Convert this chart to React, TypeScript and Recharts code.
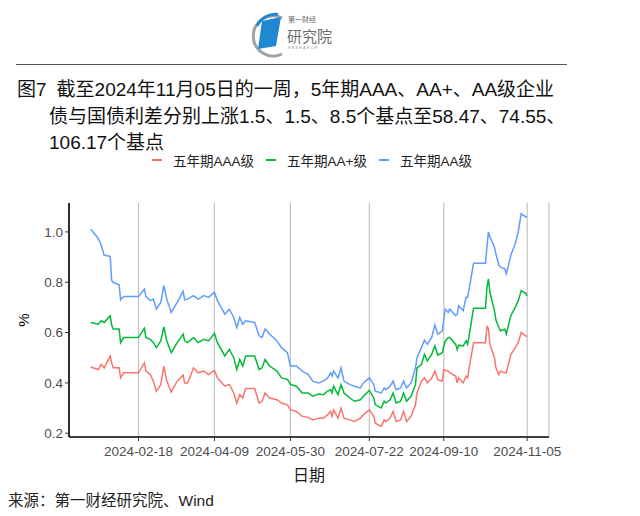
import { LineChart, Line, XAxis, YAxis, CartesianGrid } from 'recharts'

const DATES = [
  '2024-01-17', '2024-01-22', '2024-01-24', '2024-01-26', '2024-01-30', '2024-01-31',
  '2024-02-01', '2024-02-05', '2024-02-06', '2024-02-08', '2024-02-18', '2024-02-22',
  '2024-02-23', '2024-02-26', '2024-02-28', '2024-03-01', '2024-03-04', '2024-03-06',
  '2024-03-08', '2024-03-11', '2024-03-15', '2024-03-19', '2024-03-20', '2024-03-22',
  '2024-03-26', '2024-03-29', '2024-04-02', '2024-04-05', '2024-04-09', '2024-04-11',
  '2024-04-16', '2024-04-19', '2024-04-22', '2024-04-24', '2024-04-26', '2024-04-28',
  '2024-04-30', '2024-05-06', '2024-05-09', '2024-05-11', '2024-05-13', '2024-05-16',
  '2024-05-21', '2024-05-24', '2024-05-28', '2024-05-30', '2024-06-03', '2024-06-07',
  '2024-06-11', '2024-06-14', '2024-06-18', '2024-06-21', '2024-06-24', '2024-06-26',
  '2024-06-27', '2024-06-28', '2024-07-01', '2024-07-03', '2024-07-05', '2024-07-09',
  '2024-07-12', '2024-07-16', '2024-07-18', '2024-07-22', '2024-07-25', '2024-07-26',
  '2024-07-30', '2024-08-01', '2024-08-02', '2024-08-05', '2024-08-07', '2024-08-09',
  '2024-08-12', '2024-08-14', '2024-08-16', '2024-08-19', '2024-08-22', '2024-08-23',
  '2024-08-26', '2024-08-28', '2024-08-30', '2024-09-02', '2024-09-04', '2024-09-06',
  '2024-09-09', '2024-09-10', '2024-09-11', '2024-09-13', '2024-09-14', '2024-09-18',
  '2024-09-19', '2024-09-20', '2024-09-23', '2024-09-25', '2024-09-26', '2024-09-27',
  '2024-09-30', '2024-10-08', '2024-10-09', '2024-10-10', '2024-10-11', '2024-10-14',
  '2024-10-15', '2024-10-17', '2024-10-18', '2024-10-21', '2024-10-22', '2024-10-25',
  '2024-10-28', '2024-10-30', '2024-11-01', '2024-11-04', '2024-11-05',
]

// 五年期AAA级
const AAA = [
  0.463, 0.453, 0.474, 0.46, 0.507, 0.48,
  0.46, 0.46, 0.42, 0.44, 0.44, 0.48,
  0.447, 0.433, 0.407, 0.367, 0.393, 0.467,
  0.407, 0.364, 0.407, 0.431, 0.4, 0.4,
  0.46, 0.44, 0.447, 0.433, 0.45, 0.42,
  0.387, 0.394, 0.36, 0.32, 0.353, 0.34,
  0.378, 0.378, 0.32, 0.327, 0.36, 0.34,
  0.333, 0.32, 0.313, 0.293, 0.287, 0.267,
  0.263, 0.253, 0.26, 0.26, 0.273, 0.287,
  0.267, 0.293, 0.26, 0.3, 0.26, 0.253,
  0.247, 0.26, 0.273, 0.293, 0.267, 0.24,
  0.227, 0.253, 0.247, 0.26, 0.287, 0.247,
  0.253, 0.287, 0.247, 0.267, 0.313, 0.36,
  0.407, 0.42, 0.4, 0.42, 0.447, 0.413,
  0.407, 0.453, 0.45, 0.447, 0.44, 0.427,
  0.4, 0.42, 0.4, 0.427, 0.42, 0.46,
  0.56, 0.56, 0.627, 0.613, 0.553, 0.5,
  0.46, 0.433, 0.447, 0.44, 0.44, 0.513,
  0.54, 0.56, 0.6, 0.587, 0.5847,
]

// 五年期AA+级
const AA_PLUS = [
  0.64, 0.633, 0.647, 0.64, 0.667, 0.63,
  0.614, 0.614, 0.56, 0.58, 0.58, 0.617,
  0.58, 0.573, 0.56, 0.54, 0.567, 0.623,
  0.567, 0.52, 0.56, 0.594, 0.567, 0.56,
  0.58, 0.56, 0.573, 0.567, 0.597, 0.56,
  0.507, 0.533, 0.5, 0.453, 0.493, 0.467,
  0.507, 0.507, 0.453, 0.46, 0.493, 0.467,
  0.447, 0.42, 0.414, 0.394, 0.387, 0.36,
  0.36, 0.347, 0.356, 0.353, 0.367, 0.373,
  0.36, 0.387, 0.353, 0.393, 0.36, 0.34,
  0.327, 0.333, 0.347, 0.37, 0.34, 0.313,
  0.3, 0.327, 0.32, 0.333, 0.36, 0.32,
  0.327, 0.36, 0.327, 0.347, 0.393, 0.46,
  0.473, 0.513, 0.487, 0.515, 0.547, 0.51,
  0.52, 0.547, 0.567, 0.58, 0.58, 0.553,
  0.533, 0.55, 0.547, 0.567, 0.553, 0.587,
  0.697, 0.697, 0.78, 0.813, 0.76, 0.687,
  0.65, 0.62, 0.607, 0.613, 0.594, 0.667,
  0.7, 0.727, 0.767, 0.756, 0.7455,
]

// 五年期AA级
const AA = [
  1.011, 0.974, 0.947, 0.907, 0.903, 0.807,
  0.8, 0.79, 0.73, 0.743, 0.743, 0.773,
  0.743, 0.727, 0.733, 0.694, 0.72, 0.787,
  0.733, 0.68, 0.72, 0.764, 0.73, 0.733,
  0.747, 0.733, 0.747, 0.74, 0.76, 0.727,
  0.673, 0.693, 0.66, 0.62, 0.66, 0.633,
  0.647, 0.64, 0.587, 0.58, 0.614, 0.594,
  0.567, 0.54, 0.52, 0.467, 0.467, 0.447,
  0.433, 0.407, 0.4, 0.407, 0.42, 0.44,
  0.427, 0.447, 0.42, 0.46, 0.407, 0.393,
  0.387, 0.38, 0.4, 0.42, 0.393, 0.367,
  0.36, 0.38, 0.373, 0.387, 0.407, 0.373,
  0.38, 0.407, 0.38, 0.4, 0.46, 0.5,
  0.54, 0.57, 0.553, 0.583, 0.63, 0.593,
  0.607, 0.653, 0.693, 0.68, 0.693, 0.667,
  0.673, 0.707, 0.687, 0.74, 0.74, 0.773,
  0.876, 0.876, 0.94, 1.0, 0.98, 0.94,
  0.913, 0.867, 0.86, 0.853, 0.833, 0.907,
  0.953, 1.0, 1.073, 1.06, 1.0617,
]

const X_TICKS = ['2024-02-18', '2024-04-09', '2024-05-30', '2024-07-22', '2024-09-10', '2024-11-05']
const Y_TICKS = [0.2, 0.4, 0.6, 0.8, 1.0]

const SERIES = [
  { key: 'aaa', name: '五年期AAA级', color: '#F8766D' },
  { key: 'aaPlus', name: '五年期AA+级', color: '#00BA38' },
  { key: 'aa', name: '五年期AA级', color: '#619CFF' },
]

const data = DATES.map((d, i) => ({
  t: Date.parse(d),
  aaa: AAA[i],
  aaPlus: AA_PLUS[i],
  aa: AA[i],
}))

// ggplot-style 5% padding on the date range
const tStart = Date.parse(DATES[0])
const tEnd = Date.parse(DATES[DATES.length - 1])
const pad = (tEnd - tStart) * 0.05
const xDomain = [tStart - pad, tEnd + pad]

const FONT = '"Liberation Sans", Arial, "Noto Sans CJK SC", sans-serif'

function YLabel(props: any) {
  const { viewBox } = props
  const x = viewBox.x + 4
  const y = viewBox.y + viewBox.height / 2
  return (
    <text x={x} y={y} transform={`rotate(-90 ${x} ${y})`} textAnchor='middle' dominantBaseline='central' fontSize={15} fill='#000'>
      %
    </text>
  )
}

function Logo() {
  return (
    <svg width={90} height={52} style={{ position: 'absolute', left: 248, top: 6 }}>
      <path d='M 34 12 A 20 20 0 1 0 34 48' fill='none' stroke='#9ea3a8' strokeWidth={3} />
      <path d='M 30 8.5 A 20 20 0 0 0 9 20' fill='none' stroke='#1e88d0' strokeWidth={3} />
      <polygon points='14,15 33,11 28,40 10,43' fill='#1e88d0' />
      <text x={40} y={16} fontSize={7} fill='#666'>第一财经</text>
      <text x={39} y={36} fontSize={15} fill='#6d6d6d'>研究院</text>
      <text x={40} y={43} fontSize={3.6} fill='#888' letterSpacing={1.3}>RESEARCH</text>
    </svg>
  )
}

export default function App() {
  return (
    <div style={{ position: 'absolute', left: 0, top: 0, width: 640, height: 516, background: '#fff', fontFamily: FONT, color: '#111', overflow: 'hidden' }}>
      <Logo />
      <div style={{ position: 'absolute', left: 16, top: 64, width: 551, height: 0, borderTop: '1.5px solid #555' }} />

      <div style={{ position: 'absolute', left: 17, top: 77, fontSize: 19, lineHeight: '26.5px', whiteSpace: 'nowrap' }}>
        <div>
          <span style={{ marginRight: 10 }}>图7</span>截至2024年11月05日的一周，5年期AAA、AA+、AA级企业
        </div>
        <div style={{ paddingLeft: 32 }}>债与国债利差分别上涨1.5、1.5、8.5个基点至58.47、74.55、</div>
        <div style={{ paddingLeft: 32 }}>106.17个基点</div>
      </div>

      <div style={{ position: 'absolute', left: 152, top: 151, height: 18, display: 'flex', alignItems: 'center', fontSize: 13.5, color: '#222', whiteSpace: 'nowrap' }}>
        {SERIES.map((s) => (
          <div key={s.key} style={{ display: 'flex', alignItems: 'center', marginRight: 12 }}>
            <div style={{ width: 10, height: 2, background: s.color, marginRight: 11 }} />
            <span>{s.name}</span>
          </div>
        ))}
      </div>

      <div style={{ position: 'absolute', left: 0, top: 145 }}>
        <LineChart width={640} height={345} data={data} margin={{ top: 58, right: 91, bottom: 5, left: 19 }}>
          <CartesianGrid horizontal={false} stroke='#c2c2c2' strokeWidth={1.2} />
          <XAxis
            dataKey='t'
            type='number'
            domain={xDomain}
            allowDataOverflow
            ticks={X_TICKS.map((d) => Date.parse(d))}
            interval={0}
            tickFormatter={(v: number) => new Date(v).toISOString().slice(0, 10)}
            height={48}
            tickSize={4}
            tickMargin={5}
            axisLine={{ stroke: '#000', strokeWidth: 1.6 }}
            tickLine={{ stroke: '#333' }}
            tick={{ fill: '#4d4d4d', fontSize: 13.5 }}
            label={{ value: '日期', position: 'insideBottom', offset: 4, fill: '#1a1a1a', fontSize: 16 }}
          />
          <YAxis
            type='number'
            domain={[0.185, 1.115]}
            allowDataOverflow
            ticks={Y_TICKS}
            interval={0}
            tickFormatter={(v: number) => v.toFixed(1)}
            width={50}
            tickSize={4}
            tickMargin={2}
            axisLine={{ stroke: '#000', strokeWidth: 1.6 }}
            tickLine={{ stroke: '#333' }}
            tick={{ fill: '#4d4d4d', fontSize: 13.5 }}
            label={<YLabel />}
          />
          {SERIES.map((s) => (
            <Line
              key={s.key}
              type='linear'
              dataKey={s.key}
              name={s.name}
              stroke={s.color}
              strokeWidth={1.5}
              dot={false}
              isAnimationActive={false}
            />
          ))}
        </LineChart>
      </div>

      <div style={{ position: 'absolute', left: 8, top: 488, fontSize: 15.5, color: '#222', whiteSpace: 'nowrap' }}>
        来源：第一财经研究院、Wind
      </div>
    </div>
  )
}
